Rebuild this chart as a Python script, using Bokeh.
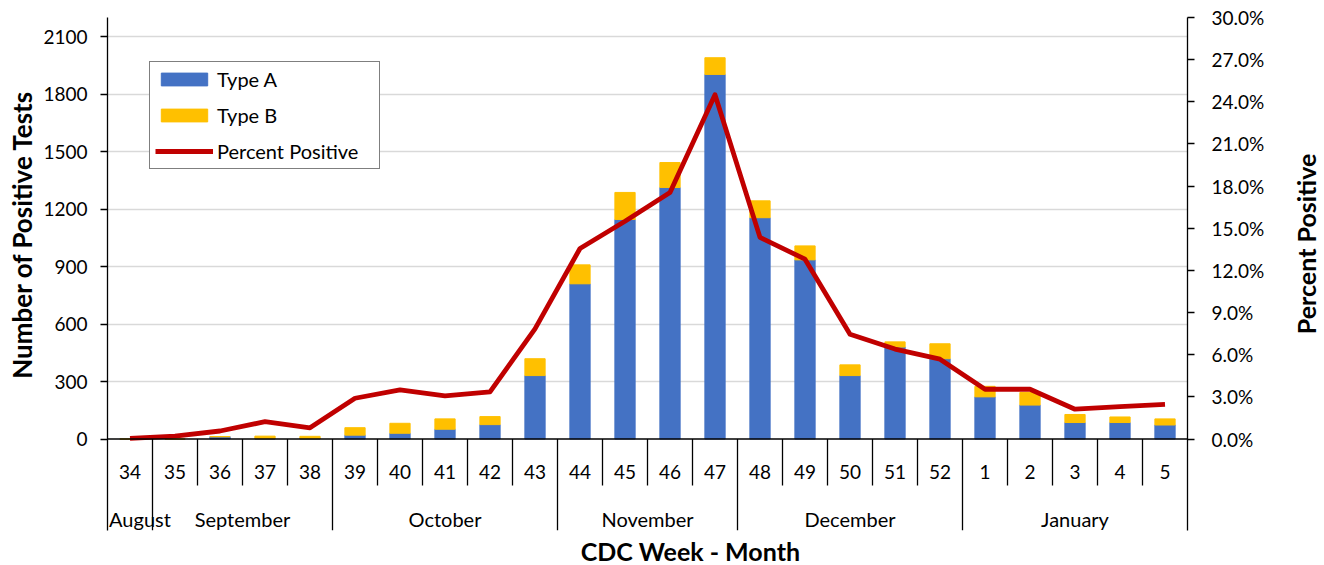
import numpy as np
from bokeh.plotting import figure
from bokeh.layouts import row, column
from bokeh.core.properties import value
from bokeh.models import (ColumnDataSource, Range1d, LinearAxis, FixedTicker,
                          PrintfTickFormatter, Grid, LabelSet, Label, Legend,
                          LegendItem, Span)
from bokeh.embed import file_html
from bokeh.resources import INLINE

# ---------------- data ----------------
weeks = ["34", "35", "36", "37", "38", "39", "40", "41", "42", "43", "44", "45",
         "46", "47", "48", "49", "50", "51", "52", "1", "2", "3", "4", "5"]
type_a = [0, 0, 12, 2, 2, 20, 30, 51, 75, 331, 810, 1146,
          1313, 1903, 1155, 935, 331, 480, 419, 220, 177, 86, 86, 73]
type_b = [0, 0, 0, 13, 12, 39, 52, 54, 42, 88, 99, 141,
          130, 87, 88, 73, 56, 27, 78, 55, 66, 42, 29, 32]
pct_positive = [0.05, 0.2, 0.57, 1.23, 0.8, 2.9, 3.5, 3.07, 3.35, 7.84, 13.56, 15.5,
                17.55, 24.5, 14.35, 12.8, 7.46, 6.4, 5.68, 3.54, 3.54, 2.12, 2.3, 2.47]
months = ["August", "September", "October", "November", "December", "January"]
month_weeks = [1, 4, 5, 4, 5, 5]
left_ticks = [0, 300, 600, 900, 1200, 1500, 1800, 2100]
right_ticks = [0, 3, 6, 9, 12, 15, 18, 21, 24, 27, 30]

# ---------------- layout constants ----------------
FONT = "Lato"
n = len(weeks)
Y_TOP = 2200
P_TOP = 30
ABOVE = 421.5   # px above zero line
BELOW = 91.5    # px below zero line (category area)
PX = Y_TOP / ABOVE
Y_BOT = -BELOW * PX
P_BOT = -P_TOP * BELOW / ABOVE
WEEK_Y = -32.5 * PX
MONTH_Y = -79.5 * PX
WEEK_SEP = -46.5 * PX

LW, RW, MH, BH = 40, 34, 537, 28
MW = 1324 - LW - RW
BL = 107 - LW

xc = [i + 0.5 for i in range(n)]
src = ColumnDataSource(dict(x=xc, a=type_a, b=type_b, pct=pct_positive, week=weeks))

bounds = list(np.cumsum(month_weeks))
starts = [0] + bounds[:-1]
mcent = [(s + e) / 2 for s, e in zip(starts, bounds)]
mdx = [10 if i == 0 else 0 for i in range(len(months))]
msrc = ColumnDataSource(dict(x=mcent, m=months, dx=mdx))

p = figure(width=MW, height=MH, output_backend="svg", toolbar_location=None,
           x_range=Range1d(0, n), y_range=Range1d(Y_BOT, Y_TOP),
           x_axis_location=None, y_axis_location=None,
           min_border_left=BL, min_border_right=MW - BL - 1080, min_border_top=17,
           min_border_bottom=MH - 530, outline_line_color=None)
p.grid.visible = False
p.extra_y_ranges = {"pct": Range1d(P_BOT, P_TOP)}

p.add_layout(Grid(dimension=1, ticker=FixedTicker(ticks=left_ticks[1:]),
                  grid_line_color="#D9D9D9", grid_line_width=1.3))

bars = p.vbar_stack(["a", "b"], x="x", width=0.45, source=src,
                    color=["#4472C4", "#FFC000"])
line = p.line("x", "pct", source=src, y_range_name="pct", line_color="#C00000",
              line_width=4.8, line_join="round")

p.add_layout(Span(location=0, dimension="width", line_color="black", line_width=1.3))

# category separators
wk_b = [b for b in range(1, n) if b not in bounds]
p.segment(x0=wk_b, y0=[0] * len(wk_b), x1=wk_b, y1=[WEEK_SEP] * len(wk_b),
          line_color="black", line_width=1.3)
mb = bounds[:-1]
p.segment(x0=mb, y0=[0] * len(mb), x1=mb, y1=[Y_BOT] * len(mb),
          line_color="black", line_width=1.3)

p.add_layout(LabelSet(x="x", y=WEEK_Y, text="week", source=src, text_align="center",
                      text_baseline="middle", text_font=value(FONT),
                      text_font_size="19px", text_color="black"))
p.add_layout(LabelSet(x="x", y=MONTH_Y, text="m", source=msrc, x_offset="dx",
                      text_align="center", text_baseline="middle",
                      text_font=value(FONT), text_font_size="20px", text_color="black"))

common = dict(major_tick_out=7, major_tick_in=0, minor_tick_out=0, minor_tick_in=0,
              major_label_text_font=FONT,
              major_label_text_font_size="19px", major_label_text_color="black",
              axis_line_color="black", major_tick_line_color="black",
              axis_line_width=1.3, major_tick_line_width=1.3)
yl = LinearAxis(ticker=FixedTicker(ticks=left_ticks), major_label_standoff=13, **common)
p.add_layout(yl, "left")
yr = LinearAxis(y_range_name="pct", ticker=FixedTicker(ticks=right_ticks),
                formatter=PrintfTickFormatter(format="%.1f%%"),
                major_label_standoff=17, **common)
p.add_layout(yr, "right")

legend = Legend(items=[LegendItem(label="Type A", renderers=[bars[0]]),
                       LegendItem(label="Type B", renderers=[bars[1]]),
                       LegendItem(label="Percent Positive", renderers=[line])],
                location=(42, 361), margin=0, padding=5, spacing=12,
                glyph_width=58, glyph_height=16, label_standoff=4, label_width=157,
                label_text_font=FONT, label_text_font_size="20px",
                label_text_color="black",
                border_line_color="black", border_line_width=1.3,
                background_fill_color="white", background_fill_alpha=1)
p.add_layout(legend)


def title_fig(w, h):
    f = figure(width=w, height=h, output_backend="svg", toolbar_location=None,
               x_range=Range1d(0, w), y_range=Range1d(0, h),
               x_axis_location=None, y_axis_location=None, min_border=0,
               outline_line_color=None)
    f.grid.visible = False
    return f


tstyle = dict(text_font=FONT, text_font_style="bold",
              text_align="center", text_baseline="middle", text_color="black")

lf = title_fig(LW, MH)
lf.add_layout(Label(x=21, y=MH - 227, angle=90, angle_units="deg",
                    text="Number of Positive Tests", text_font_size="26px", **tstyle))
rf = title_fig(RW, MH)
rf.add_layout(Label(x=1305 - (LW + MW), y=MH - 237, angle=90, angle_units="deg",
                    text="Percent Positive", text_font_size="25px", **tstyle))
bf = title_fig(1324, BH)
bf.add_layout(Label(x=690, y=BH - (550 - MH), text="CDC Week - Month",
                    text_font_size="25px", **tstyle))

layout = column(row(lf, p, rf), bf)
open("out.html", "w").write(file_html(layout, INLINE))
